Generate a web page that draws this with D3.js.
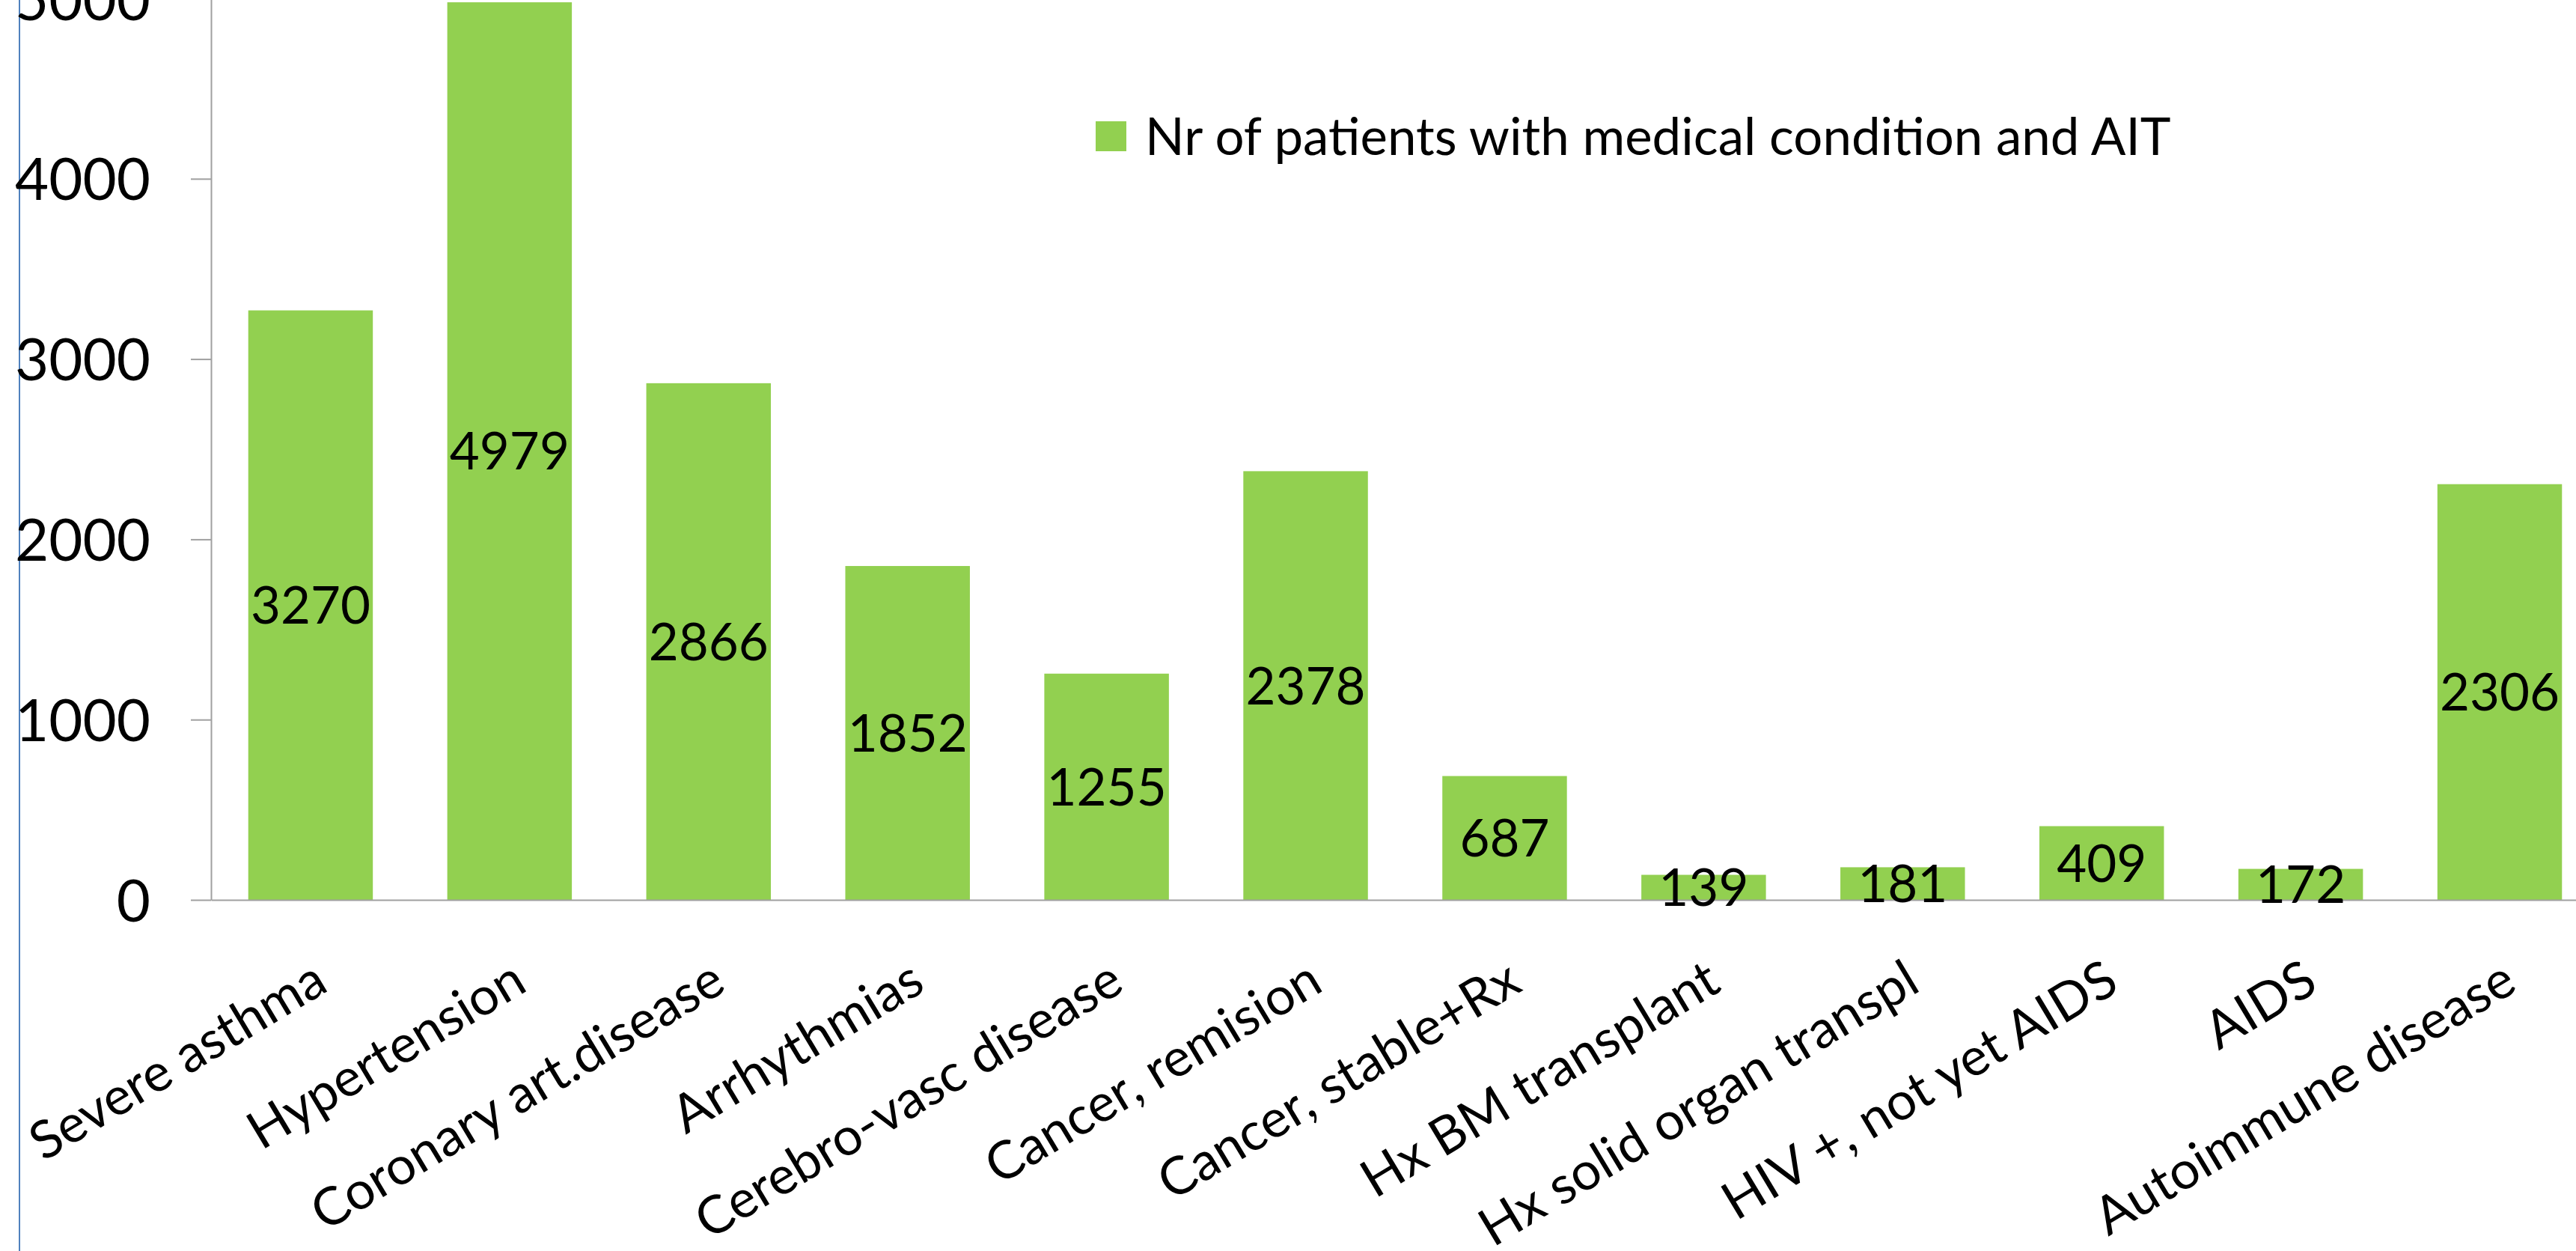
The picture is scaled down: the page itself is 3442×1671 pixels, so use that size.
<!DOCTYPE html>
<html lang="en">
<head>
    <meta charset="UTF-8">
    <title>Patients with medical condition and AIT</title>
    <style>
        body {
            margin: 0;
            background-color: #ffffff;
            overflow: hidden;
        }
        svg text {
            font-family: Lato, "Open Sans", sans-serif;
            fill: #000;
        }
    </style>
</head>
<body>
    <svg id="chart"></svg>

    <script src="https://d3js.org/d3.v7.min.js"></script>
    <script>
        // chart data
        const categories = [
            "Severe asthma", "Hypertension", "Coronary art.disease", "Arrhythmias",
            "Cerebro-vasc disease", "Cancer, remision", "Cancer, stable+Rx",
            "Hx BM transplant", "Hx solid organ transpl", "HIV +, not yet AIDS",
            "AIDS", "Autoimmune disease"
        ];
        const values = [3270, 4979, 2866, 1852, 1255, 2378, 687, 139, 181, 409, 172, 2306];
        const yTicks = [0, 1000, 2000, 3000, 4000, 5000];
        const seriesName = "Nr of patients with medical condition and AIT";

        const width = 3442, height = 1671;
        // plot area (runs a little past the right/top edge, as in the original)
        const plot = { left: 282, right: 3473, top: -2, bottom: 1202 };

        const svg = d3.select("#chart")
            .attr("width", width)
            .attr("height", height);

        svg.append("rect")
            .attr("width", width)
            .attr("height", height)
            .attr("fill", "#fff");

        // blue chart-area border on the left
        svg.append("line")
            .attr("x1", 26).attr("x2", 26)
            .attr("y1", 0).attr("y2", height)
            .attr("stroke", "#4f81bd")
            .attr("stroke-width", 2);

        const x = d3.scaleBand()
            .domain(categories)
            .range([plot.left, plot.right])
            .paddingInner(0.374)
            .paddingOuter(0.187);

        const y = d3.scaleLinear()
            .domain([0, 5000])
            .range([plot.bottom, plot.top]);

        // bars
        svg.selectAll(".bar")
            .data(values)
            .join("rect")
            .attr("class", "bar")
            .attr("x", (d, i) => x(categories[i]))
            .attr("y", d => y(d))
            .attr("width", x.bandwidth())
            .attr("height", d => y(0) - y(d))
            .attr("fill", "#92d050");

        // y axis
        const yAxis = svg.append("g")
            .attr("transform", `translate(${plot.left},0)`)
            .call(d3.axisLeft(y)
                .tickValues(yTicks)
                .tickSize(27)
                .tickSizeOuter(0)
                .tickPadding(54)
                .tickFormat(d3.format("d")));
        yAxis.select(".domain").attr("stroke", "#a0a0a0").attr("stroke-width", 2);
        yAxis.selectAll(".tick line").attr("stroke", "#a0a0a0").attr("stroke-width", 2);
        yAxis.selectAll(".tick text")
            .attr("font-size", 78)
            .attr("dy", "0.36em");

        // x axis, labels turned about 31 degrees
        const xAxis = svg.append("g")
            .attr("transform", `translate(0,${plot.bottom})`)
            .call(d3.axisBottom(x).tickSize(0).tickSizeOuter(0));
        xAxis.select(".domain").attr("stroke", "#a0a0a0").attr("stroke-width", 2);
        xAxis.selectAll(".tick text")
            .attr("font-size", 70)
            .attr("text-anchor", "end")
            .attr("x", null)
            .attr("y", null)
            .attr("dy", null)
            .attr("transform", "translate(26,120) rotate(-31)");

        // value labels, centred in each bar
        svg.selectAll(".value-label")
            .data(values)
            .join("text")
            .attr("class", "value-label")
            .attr("x", (d, i) => x(categories[i]) + x.bandwidth() / 2)
            .attr("y", d => (y(0) + y(d)) / 2)
            .attr("dy", "0.36em")
            .attr("text-anchor", "middle")
            .attr("font-size", 69)
            .text(d => d);

        // legend
        const legend = svg.append("g").attr("transform", "translate(1464,162)");
        legend.append("rect")
            .attr("width", 41)
            .attr("height", 40)
            .attr("fill", "#92d050");
        legend.append("text")
            .attr("x", 66)
            .attr("y", 20)
            .attr("dy", "0.36em")
            .attr("font-size", 69)
            .text(seriesName);
    </script>
</body>
</html>
